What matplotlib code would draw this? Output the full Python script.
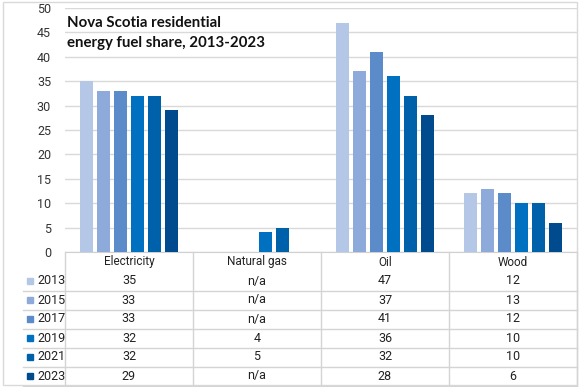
import numpy as np
import matplotlib
matplotlib.use("Agg")
import matplotlib.pyplot as plt
from matplotlib.patches import Rectangle
from matplotlib.lines import Line2D
import matplotlib.transforms as mtransforms

plt.rcParams['font.family'] = ['Roboto', 'DejaVu Sans']

# données
categories = ['Electricity', 'Natural gas', 'Oil', 'Wood']
years = ['2013', '2015', '2017', '2019', '2021', '2023']
v2013 = [35, None, 47, 12]
v2015 = [33, None, 37, 13]
v2017 = [33, None, 41, 12]
v2019 = [32, 4, 36, 10]
v2021 = [32, 5, 32, 10]
v2023 = [29, None, 28, 6]
series = [v2013, v2015, v2017, v2019, v2021, v2023]
colors = ['#b4c7e7', '#8eaadb', '#5b8bc9', '#0070c0', '#0061ab', '#004b8d']
yticks = [0, 5, 10, 15, 20, 25, 30, 35, 40, 45, 50]
title_lines = ['Nova Scotia residential', 'energy fuel share, 2013-2023']

W, H = 580, 387
fig = plt.figure(figsize=(W / 100, H / 100), dpi=100)


def fx(px):
    return px / W


def fy(py):
    return 1 - py / H


ax = fig.add_axes([fx(65), fy(252), fx(577) - fx(65), fy(8) - fy(252)])

x = np.arange(len(categories))
step, width = 0.133, 0.104
for i, (vals, col) in enumerate(zip(series, colors)):
    v = np.array([np.nan if a is None else a for a in vals], dtype=float)
    ax.bar(x + (i - 2.5) * step, v, width=width, color=col, zorder=3)

ax.set_xlim(-0.5, len(categories) - 0.5)
ax.set_ylim(0, 50)
ax.set_yticks(yticks)
ax.set_yticklabels([str(t) for t in yticks], fontsize=9, color='#333333')
ax.set_xticks([])
ax.tick_params(axis='y', length=0, pad=10)
for s in ['top', 'right', 'left']:
    ax.spines[s].set_visible(False)
ax.spines['bottom'].set_color('#d0d0d0')
ax.yaxis.grid(True, color='#d9d9d9', linewidth=1)
ax.set_axisbelow(True)

# titre
for k, line in enumerate(title_lines):
    fig.text(fx(67), fy(27.3 + 19.4 * k), line, fontsize=10.8, fontweight='bold',
             family=['Lato', 'DejaVu Sans'], color='#111111', ha='left', va='baseline')

# tableau de données
tr = mtransforms.blended_transform_factory(ax.transData, fig.transFigure)
gray = '#d4d4d4'
for xb in np.arange(len(categories) + 1) - 0.5:
    fig.add_artist(Line2D([xb, xb], [fy(252), fy(385)], transform=tr, color=gray, lw=1))

for j, cat in enumerate(categories):
    fig.text(j, fy(262), cat, transform=tr, ha='center', va='center', fontsize=8.5, color='#222222')

row_y = [281, 300, 319, 338, 357, 376]
for i, (yr, vals, col) in enumerate(zip(years, series, colors)):
    yc = row_y[i]
    fig.add_artist(Line2D([fx(23), fx(577)], [fy(yc + 9.5), fy(yc + 9.5)],
                          transform=fig.transFigure, color=gray, lw=1))
    fig.add_artist(Rectangle((fx(27), fy(yc + 3)), fx(6), fy(0) - fy(6),
                             transform=fig.transFigure, color=col))
    fig.text(fx(37), fy(yc), yr, ha='left', va='center', fontsize=9, color='#222222')
    for j, v in enumerate(vals):
        fig.text(j, fy(yc), 'n/a' if v is None else str(v), transform=tr,
                 ha='center', va='center', fontsize=9, color='#222222')

# cadre
fig.add_artist(Rectangle((fx(3), fy(385)), fx(574), fy(2) - fy(385),
                         transform=fig.transFigure, fill=False, edgecolor='#d9d9d9', lw=1))

fig.savefig('out.png', dpi=100)
